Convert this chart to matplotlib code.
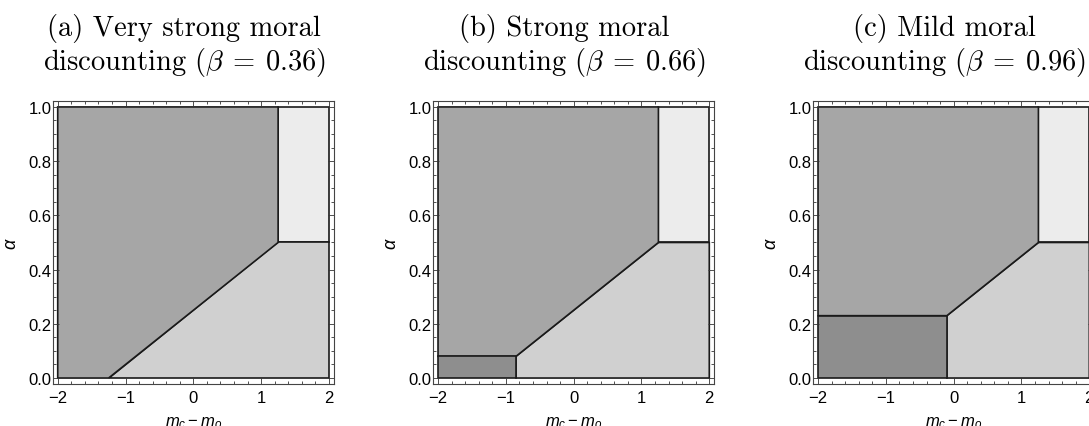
import matplotlib
matplotlib.use("Agg")
import matplotlib.pyplot as plt
from matplotlib.patches import Polygon
from matplotlib.ticker import MultipleLocator

# fonts: sans tick labels, Computer Modern for the titles
plt.rcParams['font.family'] = ['Liberation Sans', 'DejaVu Sans']
plt.rcParams['mathtext.fontset'] = 'custom'
plt.rcParams['mathtext.rm'] = 'Liberation Sans'
plt.rcParams['mathtext.it'] = 'Liberation Sans:italic'

# data
titles = ["(a) Very strong moral", "(b) Strong moral", "(c) Mild moral"]
betas = [0.36, 0.66, 0.96]
kink_x = [-1.25, -0.85, -0.10]   # where the lower-left region ends
kink_y = [0.00, 0.08, 0.23]      # height of the lower-left region
corner = (1.25, 0.5)             # corner of the upper-right region
x_range = (-2, 2)
y_range = (0, 1)

c_dark = '#a6a6a6'
c_darkest = '#8e8e8e'
c_mid = '#d0d0d0'
c_light = '#ececec'

fig = plt.figure(figsize=(10.89, 4.27), dpi=100)
lefts = [52.7, 433.0, 813.0]

for i in range(3):
    ax = fig.add_axes([lefts[i] / 1089, 42 / 427, 281.3 / 1089, 283.3 / 427])
    x0, x1 = x_range
    y0, y1 = y_range
    kx, ky = kink_x[i], kink_y[i]
    cx, cy = corner

    polys = [
        ([(cx, cy), (x1, cy), (x1, y1), (cx, y1)], c_light),
        ([(kx, y0), (x1, y0), (x1, cy), (cx, cy), (kx, ky)], c_mid),
        ([(x0, ky), (kx, ky), (cx, cy), (cx, y1), (x0, y1)], c_dark),
    ]
    if ky > 0:
        polys.append(([(x0, y0), (kx, y0), (kx, ky), (x0, ky)], c_darkest))
    for pts, col in polys:
        ax.add_patch(Polygon(pts, closed=True, facecolor=col,
                             edgecolor='#1a1a1a', linewidth=1.2))

    ax.set_xlim(x0 - 0.074, x1 + 0.074)
    ax.set_ylim(y0 - 0.022, y1 + 0.023)
    ax.set_xticks([-2, -1, 0, 1, 2])
    ax.set_xticklabels(['\u22122', '\u22121', '0', '1', '2'])
    ax.set_yticks([0, 0.2, 0.4, 0.6, 0.8, 1.0])
    ax.set_yticklabels(['0.0', '0.2', '0.4', '0.6', '0.8', '1.0'])
    ax.xaxis.set_minor_locator(MultipleLocator(0.2))
    ax.yaxis.set_minor_locator(MultipleLocator(0.05))
    ax.tick_params(which='both', direction='in', top=True, right=True,
                   labelsize=12, width=0.6, color='#333333')
    ax.tick_params(axis='x', pad=4)
    ax.tick_params(axis='y', pad=1)
    ax.tick_params(which='major', length=4)
    ax.tick_params(which='minor', length=2)
    for s in ax.spines.values():
        s.set_linewidth(0.8)
        s.set_color('#444444')

    ax.set_xlabel('$m_c - m_o$', fontsize=12, labelpad=7)
    ax.set_ylabel(r'$\alpha$', fontsize=13, labelpad=6)

    # two line title in Computer Modern
    xc = (lefts[i] + 281.3 / 2 - 9) / 1089
    fig.text(xc, 1 - 36 / 427, titles[i], ha='center', va='baseline',
             fontsize=20.5, fontname='cmr10')
    fig.text(xc, 1 - 70 / 427,
             'discounting ($\\beta\\:=\\:%.2f$)' % betas[i],
             ha='center', va='baseline', fontsize=20.5, fontname='cmr10',
             math_fontfamily='cm')

fig.savefig('out.png', dpi=100)
